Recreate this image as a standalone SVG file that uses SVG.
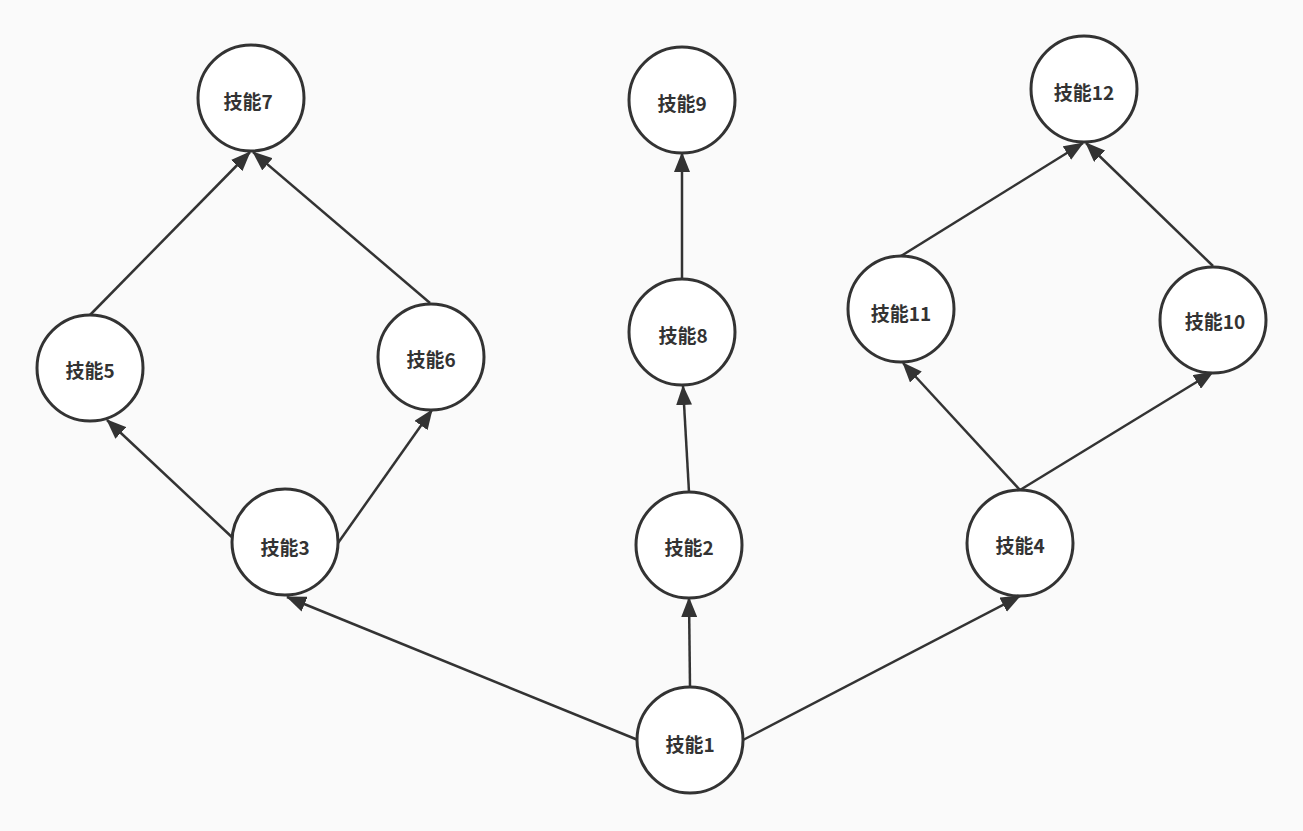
<svg xmlns="http://www.w3.org/2000/svg" width="1303" height="831" viewBox="0 0 1303 831">
<style>
.n circle{fill:#ffffff;stroke:#333333;stroke-width:3}
.n text{font-family:"Noto Sans CJK SC","Noto Sans",sans-serif;font-weight:bold;font-size:19px;fill:#333333;text-anchor:middle;dominant-baseline:central}
.e line{stroke:#333333;stroke-width:2.5;marker-end:url(#ah)}
</style>
<defs>
<marker id="ah" markerUnits="userSpaceOnUse" markerWidth="20" markerHeight="16" viewBox="0 0 20 16" refX="19" refY="8" orient="auto">
<path d="M0,0 L20,8 L0,16 Z" fill="#333333"/>
</marker>
</defs>
<rect width="1303" height="831" fill="#fafafa"/>
<g id="connectors" class="e">
<line x1="638" y1="740" x2="287" y2="597"/>
<line x1="690" y1="687" x2="689" y2="598"/>
<line x1="743" y1="740" x2="1020" y2="596"/>
<line x1="235" y1="540" x2="107" y2="420"/>
<line x1="338" y1="543" x2="432" y2="410"/>
<line x1="689" y1="492" x2="683" y2="386"/>
<line x1="1020" y1="490" x2="903" y2="363"/>
<line x1="1020" y1="490" x2="1213" y2="372"/>
<line x1="90" y1="315" x2="250" y2="152"/>
<line x1="430" y1="303" x2="253" y2="152"/>
<line x1="682" y1="280" x2="682" y2="153"/>
<line x1="901" y1="256" x2="1083" y2="143"/>
<line x1="1213" y1="266" x2="1086" y2="143"/>
</g>
<g id="node1" class="n"><circle cx="690" cy="740" r="53"/><text x="690" y="743">技能1</text></g>
<g id="node2" class="n"><circle cx="689" cy="545" r="53"/><text x="689" y="546">技能2</text></g>
<g id="node3" class="n"><circle cx="285" cy="542" r="53"/><text x="285" y="546">技能3</text></g>
<g id="node4" class="n"><circle cx="1020" cy="543" r="53"/><text x="1020" y="544">技能4</text></g>
<g id="node5" class="n"><circle cx="90" cy="368" r="53"/><text x="90" y="369">技能5</text></g>
<g id="node6" class="n"><circle cx="431" cy="357" r="53"/><text x="431" y="358">技能6</text></g>
<g id="node7" class="n"><circle cx="251" cy="98" r="53"/><text x="248" y="100">技能7</text></g>
<g id="node8" class="n"><circle cx="682" cy="332" r="53"/><text x="683" y="334">技能8</text></g>
<g id="node9" class="n"><circle cx="682" cy="100" r="53"/><text x="682" y="102">技能9</text></g>
<g id="node10" class="n"><circle cx="1213" cy="320" r="53"/><text x="1215" y="320">技能10</text></g>
<g id="node11" class="n"><circle cx="901" cy="309" r="53"/><text x="901" y="312">技能11</text></g>
<g id="node12" class="n"><circle cx="1084" cy="89" r="53"/><text x="1084" y="91">技能12</text></g>
</svg>
